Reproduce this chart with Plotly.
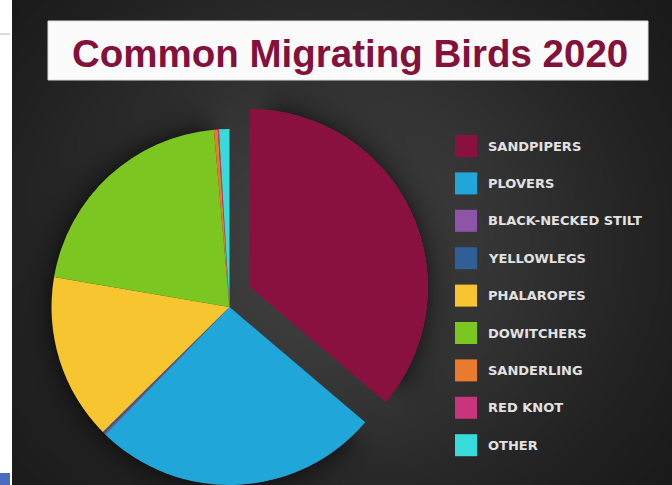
import base64
import struct
import zlib

import numpy as np
import plotly.graph_objects as go

# ---- data ----
species = [
    "SANDPIPERS", "PLOVERS", "BLACK-NECKED STILT", "YELLOWLEGS",
    "PHALAROPES", "DOWITCHERS", "SANDERLING", "RED KNOT", "OTHER",
]
share = [36.2, 26.1, 0.15, 0.15, 15.1, 20.9, 0.35, 0.1, 0.95]
colors = [
    "#8a1040", "#20a6d8", "#8c55a8", "#2f5f94",
    "#f7c530", "#7cc622", "#ea7a2c", "#c8357c", "#36dcdc",
]
title_text = "Common Migrating Birds 2020"

W, H = 672, 485
TRANSPARENT = "rgba(0,0,0,0)"


def px(x):
    return x / W


def py(y):
    return 1 - y / H


# ---- chalkboard backdrop with a soft shadow around the pie ----
R = 178
main_c = (229.5, 307.0)
pulled_c = (250.0, 287.0)
sand_angle = 2 * np.pi * share[0] / sum(share)

xs = np.arange(12, W) + 0.5
ys = np.arange(H) + 0.5
X, Y = np.meshgrid(xs, ys)
glow = np.exp(-((X - 330) / 310) ** 2 - ((Y - 245) / 280) ** 2)
base = 20 + (64 - 20) * glow


def clock_angle(dx, dy):
    return np.mod(np.arctan2(dx, -dy), 2 * np.pi)


def smooth_step(t):
    t = np.clip(t, 0, 1)
    return t * t * (3 - 2 * t)


fade = np.radians(12)

# main pie: no shadow where its sandpiper wedge has been pulled away
dxm, dym = X - main_c[0], Y - main_c[1]
d_main = np.hypot(dxm, dym) - R
ang_m = clock_angle(dxm, dym)
main_weight = np.where(ang_m > sand_angle,
                       smooth_step((ang_m - sand_angle) / fade) *
                       smooth_step((2 * np.pi - ang_m) / fade), 0)

# pulled wedge: shadow only along its own arc
dxp, dyp = X - pulled_c[0], Y - pulled_c[1]
d_pull = np.hypot(dxp, dyp) - R
ang_p = clock_angle(dxp, dyp)
pull_weight = np.where(ang_p <= sand_angle,
                       smooth_step(ang_p / fade) * smooth_step((sand_angle - ang_p) / fade), 0)

shade_main = np.where(d_main > 0, 0.45 * np.exp(-d_main / 15), 0) * main_weight
shade_pull = np.where(d_pull > 0, 0.4 * np.exp(-d_pull / 15), 0) * pull_weight
shade = np.maximum(shade_main, shade_pull)
val = np.clip(base * (1 - shade), 0, 255).astype(np.uint8)
rgb = np.stack([val, val, val], axis=-1)


def png_data_uri(img):
    h, w, _ = img.shape
    raw = b"".join(b"\x00" + img[i].tobytes() for i in range(h))

    def chunk(tag, data):
        body = tag + data
        return struct.pack(">I", len(data)) + body + struct.pack(">I", zlib.crc32(body) & 0xFFFFFFFF)

    png = (b"\x89PNG\r\n\x1a\n"
           + chunk(b"IHDR", struct.pack(">IIBBBBB", w, h, 8, 2, 0, 0, 0))
           + chunk(b"IDAT", zlib.compress(raw, 9))
           + chunk(b"IEND", b""))
    return "data:image/png;base64," + base64.b64encode(png).decode()


bg_uri = png_data_uri(rgb)


def pie_domain(center):
    cx, cy = center
    return dict(x=[px(cx - R), px(cx + R)], y=[py(cy + R), py(cy - R)])


fig = go.Figure()

# whole pie, with the sandpiper wedge left empty
fig.add_trace(go.Pie(
    labels=species, values=share, sort=False, direction="clockwise", rotation=0,
    marker=dict(colors=[TRANSPARENT] + colors[1:], line=dict(width=0)),
    textinfo="none", hoverinfo="label+percent", showlegend=False,
    domain=pie_domain(main_c),
))
# sandpiper wedge pulled out of the pie
fig.add_trace(go.Pie(
    labels=species, values=share, sort=False, direction="clockwise", rotation=0,
    marker=dict(colors=[colors[0]] + [TRANSPARENT] * (len(colors) - 1), line=dict(width=0)),
    textinfo="none", hoverinfo="skip", showlegend=False,
    domain=pie_domain(pulled_c),
))

shapes = [
    # page strip at the left
    dict(type="rect", xref="paper", yref="paper", x0=0, x1=px(12), y0=0, y1=1,
         fillcolor="white", line=dict(width=0), layer="below"),
    dict(type="line", xref="paper", yref="paper", x0=0, x1=px(10), y0=py(34), y1=py(34),
         line=dict(color="#d0d0d0", width=1.5)),
    dict(type="rect", xref="paper", yref="paper", x0=0, x1=px(10), y0=0, y1=py(473),
         fillcolor="#4b6dbf", line=dict(width=0)),
    # title plate
    dict(type="rect", xref="paper", yref="paper", x0=px(48), x1=px(648), y0=py(80), y1=py(21),
         fillcolor="#fbfbfb", line=dict(color="#dcdcdc", width=1)),
]

annotations = [
    dict(text=f"<b>{title_text}</b>", xref="paper", yref="paper", x=px(350), y=py(53),
         xanchor="center", yanchor="middle", showarrow=False,
         font=dict(family="Liberation Sans, Arial, sans-serif", size=38.5, color="#84103c")),
]

# key on the right
key_x, key_y0, key_step, sw = 455, 146, 37.4, 22
for i, (name, col) in enumerate(zip(species, colors)):
    yc = key_y0 + i * key_step
    shapes.append(dict(type="rect", xref="paper", yref="paper",
                       x0=px(key_x), x1=px(key_x + sw), y0=py(yc + sw / 2), y1=py(yc - sw / 2),
                       fillcolor=col, line=dict(width=0)))
    annotations.append(dict(text=f"<b>{name}</b>", xref="paper", yref="paper",
                            x=px(486), y=py(yc), xanchor="left", yanchor="middle",
                            showarrow=False,
                            font=dict(family="DejaVu Sans, sans-serif", size=13, color="#e2e2e2")))

fig.update_layout(
    width=W, height=H,
    margin=dict(l=0, r=0, t=0, b=0),
    paper_bgcolor="white",
    plot_bgcolor="rgba(0,0,0,0)",
    showlegend=False,
    shapes=shapes,
    annotations=annotations,
    images=[dict(source=bg_uri, xref="paper", yref="paper", x=px(12), y=1,
                 sizex=1 - px(12), sizey=1, xanchor="left", yanchor="top",
                 sizing="stretch", layer="below")],
)

fig.write_html("out.html")
